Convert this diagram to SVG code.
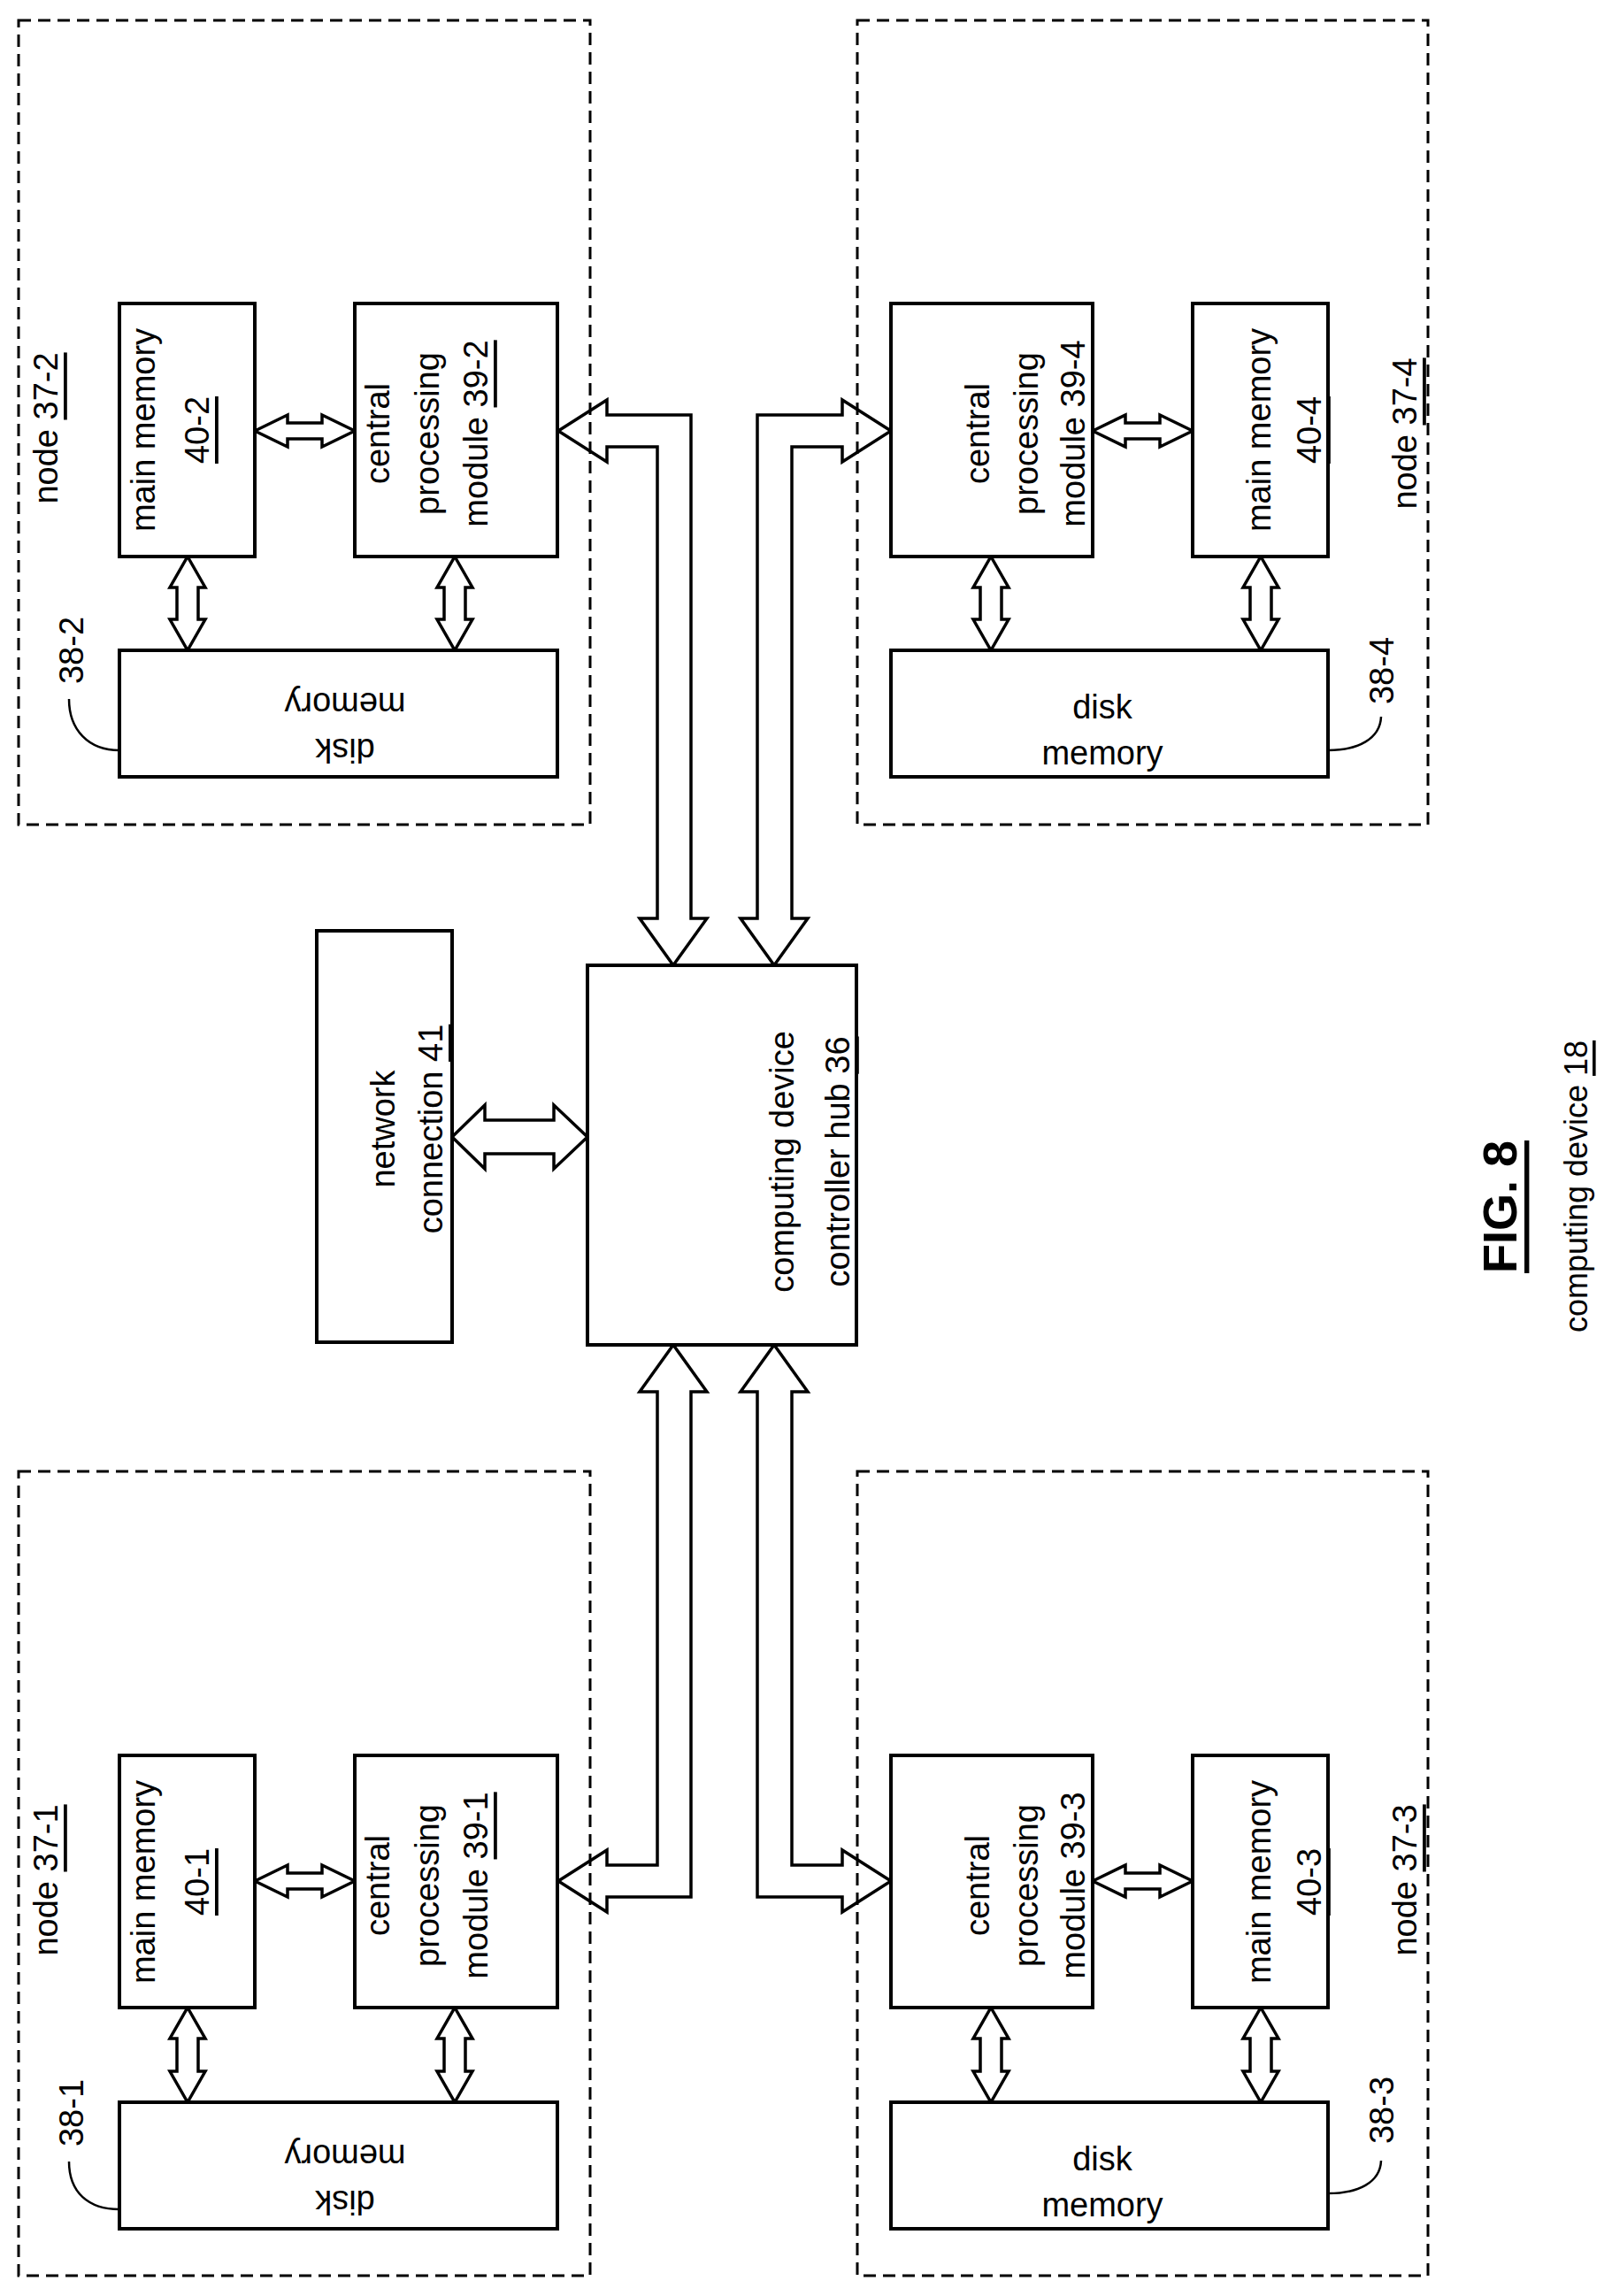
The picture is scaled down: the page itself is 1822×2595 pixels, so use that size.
<svg xmlns="http://www.w3.org/2000/svg" width="1822" height="2595" viewBox="0 0 1822 2595">
<style>
.box{fill:#fff;stroke:#000;stroke-width:4}
.dash{fill:none;stroke:#000;stroke-width:3;stroke-dasharray:14 8}
.arr{fill:#fff;stroke:#000;stroke-width:3.5;stroke-linejoin:miter}
.lead{fill:none;stroke:#000;stroke-width:2.5}
text{font-family:"Liberation Sans",Arial,sans-serif;font-size:38px;fill:#000;text-anchor:middle;dominant-baseline:central}
.u{text-decoration:underline}
</style>
<rect width="1822" height="2595" fill="#fff"/>
<g id="connectors">
<polygon class="arr" points="631,487 686,452 686,469 781,469 781,1038 799,1038 761,1091 723,1038 743,1038 743,505 686,505 686,522"/>
<polygon class="arr" points="1007,487 952,452 952,469 856,469 856,1038 837,1038 875,1091 913,1038 895,1038 895,505 952,505 952,522"/>
<polygon class="arr" points="631,2126 686,2091 686,2108 743,2108 743,1573 723,1573 761,1520 799,1573 781,1573 781,2144 686,2144 686,2161"/>
<polygon class="arr" points="1007,2126 952,2091 952,2108 895,2108 895,1573 913,1573 875,1520 837,1573 856,1573 856,2144 952,2144 952,2161"/>
<polygon class="arr" points="511,1285 548,1249 548,1266 626,1266 626,1249 664,1285 626,1321 626,1304 548,1304 548,1321"/>
<polygon class="arr" points="288,487 325,469 325,478 364,478 364,469 401,487 364,505 364,496 325,496 325,505"/>
<polygon class="arr" points="212,629 232,664 224,664 224,700 232,700 212,735 192,700 200,700 200,664 192,664"/>
<polygon class="arr" points="514,629 534,664 526,664 526,700 534,700 514,735 494,700 502,700 502,664 494,664"/>
<polygon class="arr" points="1235,487 1272,469 1272,478 1311,478 1311,469 1348,487 1311,505 1311,496 1272,496 1272,505"/>
<polygon class="arr" points="1120,629 1140,664 1132,664 1132,700 1140,700 1120,735 1100,700 1108,700 1108,664 1100,664"/>
<polygon class="arr" points="1425,629 1445,664 1437,664 1437,700 1445,700 1425,735 1405,700 1413,700 1413,664 1405,664"/>
<polygon class="arr" points="288,2126 325,2108 325,2117 364,2117 364,2108 401,2126 364,2144 364,2135 325,2135 325,2144"/>
<polygon class="arr" points="212,2269 232,2304 224,2304 224,2341 232,2341 212,2376 192,2341 200,2341 200,2304 192,2304"/>
<polygon class="arr" points="514,2269 534,2304 526,2304 526,2341 534,2341 514,2376 494,2341 502,2341 502,2304 494,2304"/>
<polygon class="arr" points="1235,2126 1272,2108 1272,2117 1311,2117 1311,2108 1348,2126 1311,2144 1311,2135 1272,2135 1272,2144"/>
<polygon class="arr" points="1120,2269 1140,2304 1132,2304 1132,2341 1140,2341 1120,2376 1100,2341 1108,2341 1108,2304 1100,2304"/>
<polygon class="arr" points="1425,2269 1445,2304 1437,2304 1437,2341 1445,2341 1425,2376 1405,2341 1413,2341 1413,2304 1405,2304"/>
<path class="lead" d="M78,790 C78,825 100,848 135,848"/>
<path class="lead" d="M1501,848 C1535,848 1560,835 1561,810"/>
<path class="lead" d="M78,2443 C78,2478 100,2497 135,2497"/>
<path class="lead" d="M1501,2479 C1535,2479 1560,2467 1561,2442"/>
</g>
<g id="node37-2">
<rect class="dash" x="21" y="23" width="646" height="909"/>
<text transform="translate(52,484) rotate(-90)">node <tspan class="u">37-2</tspan></text>
<rect class="box" x="135" y="343" width="153" height="286"/>
<text transform="translate(162,486) rotate(-90)">main memory</text>
<text transform="translate(223,486) rotate(-90)"><tspan class="u">40-2</tspan></text>
<rect class="box" x="401" y="343" width="229" height="286"/>
<text transform="translate(427,490) rotate(-90)">central</text>
<text transform="translate(483,490) rotate(-90)">processing</text>
<text transform="translate(538,490) rotate(-90)">module <tspan class="u">39-2</tspan></text>
<rect class="box" x="135" y="735" width="495" height="143"/>
<text transform="translate(390,796) rotate(180)">memory</text>
<text transform="translate(390,848) rotate(180)">disk</text>
<text transform="translate(81,735) rotate(-90)">38-2</text>
</g>
<g id="node37-4">
<rect class="dash" x="969" y="23" width="645" height="909"/>
<text transform="translate(1588,490) rotate(-90)">node <tspan class="u">37-4</tspan></text>
<rect class="box" x="1007" y="343" width="228" height="286"/>
<text transform="translate(1105,490) rotate(-90)">central</text>
<text transform="translate(1160,490) rotate(-90)">processing</text>
<text transform="translate(1213,490) rotate(-90)">module <tspan class="u">39-4</tspan></text>
<rect class="box" x="1348" y="343" width="153" height="286"/>
<text transform="translate(1423,486) rotate(-90)">main memory</text>
<text transform="translate(1480,486) rotate(-90)"><tspan class="u">40-4</tspan></text>
<rect class="box" x="1007" y="735" width="494" height="143"/>
<text x="1246" y="799">disk</text>
<text x="1246" y="851">memory</text>
<text transform="translate(1562,758) rotate(-90)">38-4</text>
</g>
<g id="node37-1">
<rect class="dash" x="21" y="1663" width="646" height="909"/>
<text transform="translate(52,2125) rotate(-90)">node <tspan class="u">37-1</tspan></text>
<rect class="box" x="135" y="1984" width="153" height="285"/>
<text transform="translate(162,2127) rotate(-90)">main memory</text>
<text transform="translate(223,2127) rotate(-90)"><tspan class="u">40-1</tspan></text>
<rect class="box" x="401" y="1984" width="229" height="285"/>
<text transform="translate(427,2131) rotate(-90)">central</text>
<text transform="translate(483,2131) rotate(-90)">processing</text>
<text transform="translate(538,2131) rotate(-90)">module <tspan class="u">39-1</tspan></text>
<rect class="box" x="135" y="2376" width="495" height="143"/>
<text transform="translate(390,2437) rotate(180)">memory</text>
<text transform="translate(390,2489) rotate(180)">disk</text>
<text transform="translate(81,2388) rotate(-90)">38-1</text>
</g>
<g id="node37-3">
<rect class="dash" x="969" y="1663" width="645" height="909"/>
<text transform="translate(1588,2125) rotate(-90)">node <tspan class="u">37-3</tspan></text>
<rect class="box" x="1007" y="1984" width="228" height="285"/>
<text transform="translate(1105,2131) rotate(-90)">central</text>
<text transform="translate(1160,2131) rotate(-90)">processing</text>
<text transform="translate(1213,2131) rotate(-90)">module <tspan class="u">39-3</tspan></text>
<rect class="box" x="1348" y="1984" width="153" height="285"/>
<text transform="translate(1423,2127) rotate(-90)">main memory</text>
<text transform="translate(1480,2127) rotate(-90)"><tspan class="u">40-3</tspan></text>
<rect class="box" x="1007" y="2376" width="494" height="143"/>
<text x="1246" y="2440">disk</text>
<text x="1246" y="2492">memory</text>
<text transform="translate(1562,2385) rotate(-90)">38-3</text>
</g>
<g id="hub36">
<rect class="box" x="664" y="1091" width="304" height="429"/>
<text transform="translate(884,1313) rotate(-90)">computing device</text>
<text transform="translate(947,1313) rotate(-90)">controller hub <tspan class="u">36</tspan></text>
</g>
<g id="network41">
<rect class="box" x="358" y="1052" width="153" height="465"/>
<text transform="translate(433,1276) rotate(-90)">network</text>
<text transform="translate(487,1276) rotate(-90)">connection <tspan class="u">41</tspan></text>
</g>
<g id="caption">
<text transform="translate(1695,1364) rotate(-90)" style="font-size:54px;font-weight:bold"><tspan class="u">FIG. 8</tspan></text>
<text transform="translate(1781,1341) rotate(-90)" style="font-size:36px">computing device <tspan class="u">18</tspan></text>
</g>
</svg>
